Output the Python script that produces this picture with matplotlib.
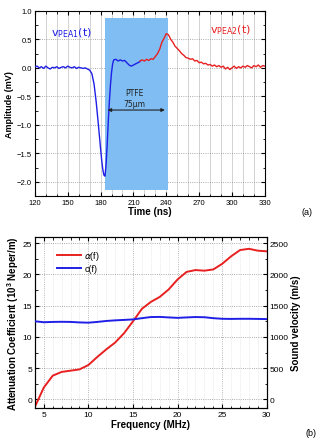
import numpy as np
import matplotlib
matplotlib.use("Agg")
import matplotlib.pyplot as plt
from matplotlib.ticker import MultipleLocator

plt.rcParams['font.family'] = ['Liberation Sans', 'DejaVu Sans']

# (a) PEA signals, time in ns, amplitude in mV
t_pea1 = [120, 122, 124, 126, 128, 130, 132, 134, 136, 138, 140, 142, 144, 146, 148,
          150, 152, 154, 156, 158, 160, 162, 164, 166, 168, 170, 172, 174, 176, 178,
          180, 181, 182, 183, 184, 185, 186, 187, 188, 189, 190, 191, 192, 194, 196,
          198, 200, 202, 204, 206, 208, 210, 212, 214, 216]
v_pea1 = [0.02, 0.03, 0.0, 0.02, -0.01, 0.03, 0.0, -0.02, 0.01, 0.0, 0.02, -0.01, 0.01, 0.02, 0.0,
          0.03, 0.01, 0.0, 0.02, -0.01, 0.01, 0.0, -0.01, 0.0, -0.02, -0.04, -0.1, -0.28, -0.6, -1.0,
          -1.42, -1.62, -1.78, -1.88, -1.9, -1.7, -1.35, -0.95, -0.6, -0.3, -0.08, 0.07, 0.14, 0.15, 0.12,
          0.14, 0.12, 0.13, 0.09, 0.05, 0.03, 0.05, 0.07, 0.09, 0.11]

t_pea2 = [216, 218, 220, 222, 224, 226, 228, 230, 232, 234, 236, 238, 240, 242, 244,
          246, 248, 250, 252, 254, 256, 258, 260, 262, 264, 266, 268, 270, 272, 274,
          276, 278, 280, 282, 284, 286, 288, 290, 292, 294, 296, 298, 300, 302, 304,
          306, 308, 310, 312, 314, 316, 318, 320, 322, 324, 326, 328, 330]
v_pea2 = [0.12, 0.14, 0.12, 0.15, 0.13, 0.16, 0.15, 0.2, 0.25, 0.33, 0.45, 0.52, 0.6, 0.58, 0.5,
          0.45, 0.38, 0.34, 0.3, 0.25, 0.22, 0.18, 0.17, 0.15, 0.16, 0.12, 0.13, 0.09, 0.1, 0.07,
          0.08, 0.05, 0.06, 0.03, 0.05, 0.02, 0.04, 0.01, 0.03, -0.02, 0.01, -0.03, 0.0, 0.03, -0.01,
          0.02, 0.0, 0.03, 0.01, 0.04, 0.02, 0.0, 0.04, 0.02, 0.05, 0.01, 0.04, 0.03]

ptfe_span = (183.9, 241.2)

# (b) attenuation and sound velocity vs frequency (MHz)
freq = [4, 5, 6, 7, 8, 9, 10, 11, 12, 13, 14, 15, 16, 17, 18, 19, 20, 21, 22, 23, 24, 25, 26, 27, 28, 29, 30]
alpha = [-1.2, 1.9, 3.8, 4.4, 4.6, 4.8, 5.5, 6.8, 8.0, 9.1, 10.6, 12.5, 14.5, 15.6, 16.4, 17.6, 19.2,
         20.4, 20.7, 20.6, 20.8, 21.7, 22.9, 23.9, 24.1, 23.8, 23.7]
sound_c = [1250, 1235, 1240, 1242, 1240, 1232, 1228, 1240, 1255, 1265, 1272, 1280, 1300, 1318, 1320,
           1312, 1305, 1312, 1318, 1315, 1300, 1290, 1288, 1290, 1290, 1288, 1285]

blue = '#1f1fe6'
red = '#e82020'

fig = plt.figure(figsize=(3.23, 4.39), dpi=100)

# ---- panel (a)
ax1 = fig.add_axes([0.108, 0.551, 0.712, 0.422])
ax1.axvspan(ptfe_span[0], ptfe_span[1], ymin=(-2.146 + 2.25) / 3.25, ymax=(0.876 + 2.25) / 3.25,
            color='#7fbdf3', lw=0, zorder=1)
ax1.plot(t_pea1, v_pea1, color=blue, lw=1.0, zorder=3)
ax1.plot(t_pea2, v_pea2, color=red, lw=1.0, zorder=3)
ax1.annotate('', xy=(ptfe_span[0], -0.74), xytext=(ptfe_span[1], -0.74),
             arrowprops=dict(arrowstyle='<|-|>', color='#222222', lw=0.8, mutation_scale=5), zorder=4)
ax1.text(211, -0.44, 'PTFE', fontsize=5.5, ha='center', va='center', color='#222222', family='DejaVu Sans')
ax1.text(211, -0.63, '75μm', fontsize=5.5, ha='center', va='center', color='#222222', family='DejaVu Sans')
ax1.text(153, 0.62, r'v$_{\mathregular{PEA1}}$(t)', fontsize=8, ha='center', va='center', color=blue,
         family='DejaVu Sans')
ax1.text(299, 0.67, r'v$_{\mathregular{PEA2}}$(t)', fontsize=8, ha='center', va='center', color=red,
         family='DejaVu Sans')
ax1.set_xlim(120, 330)
ax1.set_ylim(-2.25, 1.0)
ax1.xaxis.set_major_locator(MultipleLocator(30))
ax1.xaxis.set_minor_locator(MultipleLocator(10))
ax1.yaxis.set_major_locator(MultipleLocator(0.5))
ax1.yaxis.set_minor_locator(MultipleLocator(0.25))
ax1.grid(True, which='both', axis='x', color='#cccccc', lw=0.6, zorder=0)
ax1.grid(True, which='major', axis='y', color='#909090', lw=0.6, ls=':', zorder=0)
ax1.set_axisbelow(True)
ax1.tick_params(which='both', direction='in', top=True, right=True, labelsize=5.5, pad=2)
ax1.tick_params(which='major', length=3)
ax1.tick_params(which='minor', length=1.8)
ax1.set_xlabel('Time (ns)', fontsize=7, fontweight='bold', labelpad=0)
ax1.set_ylabel('Amplitude (mV)', fontsize=6.5, fontweight='bold', labelpad=2)
fig.text(0.951, 0.517, '(a)', fontsize=6.5, ha='center', va='center')

# ---- panel (b)
ax2 = fig.add_axes([0.108, 0.068, 0.718, 0.390])
ax2.plot(freq, alpha, color=red, lw=1.4, label=r'$\alpha$(f)', zorder=3)
ax2.set_xlim(4, 30)
ax2.set_ylim(-1.4, 26)
ax2.xaxis.set_major_locator(MultipleLocator(5))
ax2.xaxis.set_minor_locator(MultipleLocator(1))
ax2.yaxis.set_major_locator(MultipleLocator(5))
ax2.yaxis.set_minor_locator(MultipleLocator(2.5))
ax2.grid(True, which='minor', axis='x', color='#d8d8d8', lw=0.5, ls=':', zorder=0)
ax2.grid(True, which='major', axis='x', color='#a0a0a0', lw=0.6, ls=':', zorder=0)
ax2.grid(True, which='major', axis='y', color='#909090', lw=0.6, ls=':', zorder=0)
ax2.tick_params(which='both', direction='in', top=True, labelsize=6, pad=2)
ax2.tick_params(which='major', length=3)
ax2.tick_params(which='minor', length=1.8)
ax2.set_xlabel('Frequency (MHz)', fontsize=7, fontweight='bold', labelpad=1)
ax2.set_ylabel(r'Attenuation Coefficient (10$^{\mathregular{3}}$ Neper/m)', fontsize=7,
               fontweight='bold', labelpad=1)

ax3 = ax2.twinx()
ax3.plot(freq, sound_c, color=blue, lw=1.4, zorder=3)
ax3.set_ylim(-140, 2600)
ax3.yaxis.set_major_locator(MultipleLocator(500))
ax3.yaxis.set_minor_locator(MultipleLocator(250))
ax3.tick_params(which='both', direction='in', labelsize=6, pad=2)
ax3.tick_params(which='major', length=3)
ax3.tick_params(which='minor', length=1.8)
ax3.set_ylabel('Sound velocity (m/s)', fontsize=7, fontweight='bold', labelpad=2)

ax2.plot([], [], color=blue, lw=1.4, label='c(f)')
ax2.legend(loc='upper left', bbox_to_anchor=(0.08, 0.95), frameon=False, fontsize=6.5,
           handlelength=2.6, handletextpad=0.4, labelspacing=0.2, borderaxespad=0)
fig.text(0.963, 0.013, '(b)', fontsize=6.5, ha='center', va='center')

fig.savefig('out.png', dpi=100)
